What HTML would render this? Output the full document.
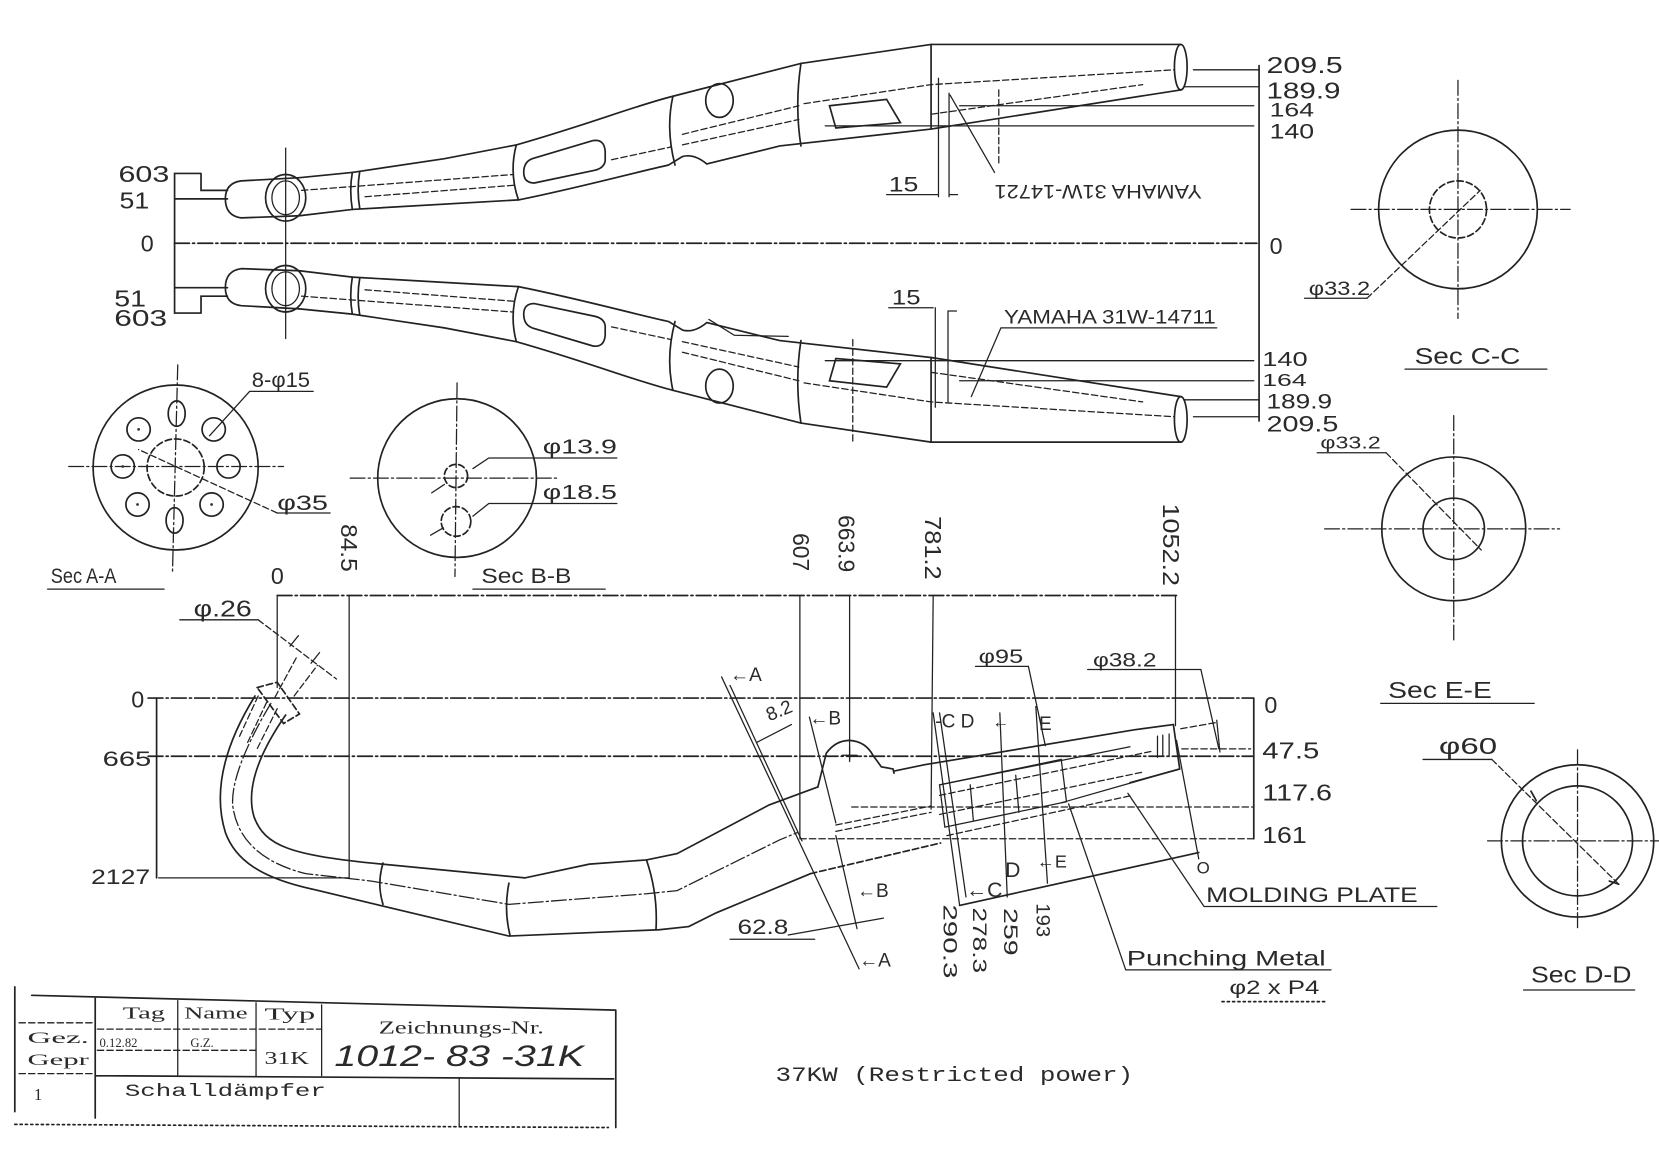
<!DOCTYPE html>
<html><head><meta charset="utf-8"><style>
html,body{margin:0;padding:0;background:#fff}
svg{display:block}
.l{stroke:#222;stroke-width:1.6;fill:none;stroke-linecap:round}
.t{stroke-width:1.2}
.d{stroke-dasharray:14 3 2 3}
.h{stroke-dasharray:6 3}
.o{stroke-dasharray:2 3}
text{font-family:"Liberation Sans",sans-serif;fill:#2a2a2a}
.s{font-family:"Liberation Serif",serif}
.m{font-family:"Liberation Mono",monospace}
</style></head><body>
<svg width="1659" height="1173" viewBox="0 0 1568 1109" preserveAspectRatio="none" xmlns="http://www.w3.org/2000/svg">
<rect x="0" y="0" width="1568" height="1109" fill="#fff"/>
<defs>
<g id="pipe">
<path class="l" d="M190,164 L165,164 L165,230 M190,164 L190,180 L215,180 M165,188 L215,188"/>
<path class="l" d="M283,168 L228,171 Q213,173 213,188 Q213,204 228,206 L283,204"/>
<path class="l" d="M283,168 L333,163 L420,150 L488,137 C555,118 600,100 636,91 L757,60 L880,42 L1116,42"/>
<path class="l" d="M283,204 L333,198 L490,189 C545,178 600,163 632,156 L645,148 Q656,145 668,155 L737,138 L880,122 L1116,85"/>
<ellipse class="l" cx="1116" cy="63.5" rx="6" ry="21.5"/>
<ellipse class="l" cx="270" cy="187" rx="19" ry="22"/>
<ellipse class="l t" cx="270" cy="187" rx="13" ry="16"/>
<path class="l" d="M333,163 Q330,180 333,198 M340,162 Q337,180 340,197 M488,137 Q481,163 490,189 M636,91 Q629,122 638,156 M757,60 Q751,100 757,138 M880,42 L880,122"/>
<path class="l h t" d="M285,180 L485,165 M345,186 L488,175 M578,151 L634,139 M645,127 L755,100 M645,137 L755,113 M760,98 L880,80 L1110,66 M880,108 L1080,80"/>
<path class="l" d="M503,150 L560,133 Q571,131 572,143 L572,152 Q571,159 562,161 L505,173 Q495,173 495,163 Q495,153 503,150 Z"/>
<ellipse class="l" cx="680" cy="95" rx="13" ry="16"/>
<path class="l" d="M784,100 L838,94 L851,116 L790,121 Z"/>
<path class="l t" d="M1128,66 L1190,66 M1120,82 L1190,82 M907,100 L1185,100 M780,119 L1185,119"/>
</g>
</defs>

<!-- TOP PLAN VIEW -->
<use href="#pipe"/>
<use href="#pipe" transform="matrix(1 0 0 -1 0 460)"/>
<path class="l t" d="M670,302 L694,317 L745,318"/>
<path class="l h t" d="M806,321 L806,418"/>
<path class="l d" d="M165,230 L1188,230"/>
<path class="l t" d="M270,140 L270,320"/>
<path class="l" d="M1190,62 L1190,398"/>
<text x="112" y="172" font-size="22" textLength="48" lengthAdjust="spacingAndGlyphs">603</text>
<text x="113" y="197" font-size="22" textLength="28" lengthAdjust="spacingAndGlyphs">51</text>
<text x="133" y="238" font-size="22">0</text>
<text x="108" y="290" font-size="22" textLength="30" lengthAdjust="spacingAndGlyphs">51</text>
<text x="108" y="308" font-size="22" textLength="50" lengthAdjust="spacingAndGlyphs">603</text>
<text x="1197" y="69" font-size="22" textLength="72" lengthAdjust="spacingAndGlyphs">209.5</text>
<text x="1197" y="93" font-size="22" textLength="70" lengthAdjust="spacingAndGlyphs">189.9</text>
<text x="1200" y="110" font-size="18" textLength="42" lengthAdjust="spacingAndGlyphs">164</text>
<text x="1200" y="131" font-size="20" textLength="42" lengthAdjust="spacingAndGlyphs">140</text>
<text x="1200" y="240" font-size="22">0</text>
<text x="1193" y="346" font-size="19" textLength="43" lengthAdjust="spacingAndGlyphs">140</text>
<text x="1193" y="365" font-size="17" textLength="42" lengthAdjust="spacingAndGlyphs">164</text>
<text x="1197" y="386" font-size="20" textLength="62" lengthAdjust="spacingAndGlyphs">189.9</text>
<text x="1197" y="408" font-size="21" textLength="68" lengthAdjust="spacingAndGlyphs">209.5</text>
<!-- 15 dims and YAMAHA labels -->
<text x="840" y="181" font-size="20" textLength="28" lengthAdjust="spacingAndGlyphs">15</text>
<path class="l t" d="M838,184 L886,184 M887,74 L887,186 M897,88 L897,186 M897,184 L905,184 M898,90 L940,163"/>
<path class="l h t" d="M944,85 L944,154"/>
<text transform="translate(1038,175) rotate(180)" text-anchor="middle" font-size="18" textLength="196" lengthAdjust="spacingAndGlyphs">YAMAHA 31W-14721</text>
<text x="843" y="288" font-size="20" textLength="27" lengthAdjust="spacingAndGlyphs">15</text>
<path class="l t" d="M840,291 L882,291 M884,291 L884,385 M896,294 L896,380 M896,294 L904,294 M946,310 L1150,310 M946,310 L918,375"/>
<text x="949" y="306" font-size="18" textLength="200" lengthAdjust="spacingAndGlyphs">YAMAHA 31W-14711</text>

<!-- SEC C-C -->
<circle class="l" cx="1378" cy="198" r="75"/>
<circle class="l h" cx="1378" cy="198" r="27"/>
<path class="l d t" d="M1277,198 L1484,198 M1378,76 L1378,301"/>
<path class="l t" d="M1233,282 L1292,282"/>
<path class="l h t" d="M1292,282 L1399,180"/>
<text x="1237" y="279" font-size="18" textLength="58" lengthAdjust="spacingAndGlyphs">φ33.2</text>
<text x="1337" y="344" font-size="22" textLength="100" lengthAdjust="spacingAndGlyphs">Sec  C-C</text>
<path class="l t" d="M1328,349 L1462,349"/>

<!-- SEC A-A -->
<circle class="l" cx="166" cy="442" r="78"/>
<circle class="l h" cx="166" cy="442" r="27"/>
<path class="l d t" d="M65,441 L268,441 M168,345 L163,542"/>
<ellipse class="l" cx="167" cy="391" rx="8" ry="12"/>
<ellipse class="l" cx="165" cy="492" rx="8" ry="12"/>
<circle class="l" cx="116" cy="441" r="11"/>
<circle class="l" cx="216" cy="441" r="11"/>
<circle class="l" cx="131" cy="406" r="11"/>
<circle class="l" cx="202" cy="406" r="11"/>
<circle class="l" cx="130" cy="477" r="11"/>
<circle class="l" cx="200" cy="477" r="11"/>
<g fill="#333"><circle cx="131" cy="406" r="1.3"/><circle cx="130" cy="477" r="1.3"/><circle cx="200" cy="477" r="1.3"/><circle cx="116" cy="441" r="1.3"/></g>
<path class="l t" d="M236,370 L296,370 M236,370 L198,412 M262,485 L312,485"/>
<path class="l h t" d="M262,485 L131,425"/>
<text x="238" y="366" font-size="20" textLength="55" lengthAdjust="spacingAndGlyphs">8-φ15</text>
<text x="262" y="482" font-size="20" textLength="48" lengthAdjust="spacingAndGlyphs">φ35</text>
<text x="48" y="551" font-size="20" textLength="62" lengthAdjust="spacingAndGlyphs">Sec A-A</text>
<path class="l t" d="M45,557 L155,557"/>

<!-- SEC B-B -->
<circle class="l" cx="432" cy="452" r="75"/>
<path class="l d t" d="M331,452 L527,452 M432,362 L430,545"/>
<circle class="l h" cx="431" cy="450" r="11"/>
<circle class="l h" cx="431" cy="493" r="14"/>
<path class="l t" d="M583,433 L462,433 L447,443 M408,466 L420,458 M583,476 L462,476 L447,488 M407,506 L419,499"/>
<text x="513" y="429" font-size="19" textLength="70" lengthAdjust="spacingAndGlyphs">φ13.9</text>
<text x="513" y="472" font-size="19" textLength="70" lengthAdjust="spacingAndGlyphs">φ18.5</text>
<text x="455" y="551" font-size="20" textLength="85" lengthAdjust="spacingAndGlyphs">Sec B-B</text>
<path class="l t" d="M447,557 L572,557"/>

<!-- SEC E-E -->
<circle class="l" cx="1374" cy="500" r="68"/>
<circle class="l" cx="1374" cy="500" r="29"/>
<path class="l d t" d="M1252,500 L1474,500 M1374,393 L1374,605"/>
<path class="l t" d="M1245,428 L1310,428"/>
<path class="l h t" d="M1310,428 L1400,520"/>
<text x="1248" y="424" font-size="17" textLength="57" lengthAdjust="spacingAndGlyphs">φ33.2</text>
<text x="1312" y="660" font-size="22" textLength="98" lengthAdjust="spacingAndGlyphs">Sec  E-E</text>
<path class="l t" d="M1305,665 L1450,665"/>

<!-- SEC D-D -->
<circle class="l" cx="1491" cy="795" r="72"/>
<circle class="l" cx="1491" cy="795" r="52"/>
<path class="l d t" d="M1406,795 L1568,795 M1491,709 L1491,880"/>
<path class="l t" d="M1345,718 L1410,718"/>
<path class="l h t" d="M1410,718 L1530,836"/>
<path class="l" d="M1452,757 L1447,748 M1530,836 L1521,833"/>
<text x="1360" y="713" font-size="22" textLength="55" lengthAdjust="spacingAndGlyphs">φ60</text>
<text x="1447" y="929" font-size="22" textLength="95" lengthAdjust="spacingAndGlyphs">Sec  D-D</text>
<path class="l t" d="M1440,936 L1545,936"/>

<!-- SIDE VIEW: dims -->
<path class="l d" d="M262,563 L1112,563"/>
<path class="l t" d="M262,563 L262,650 M330,563 L330,830 M756,563 L756,792 M803,563 L803,718 M882,563 L880,765 M1111,563 L1111,686 M1112,700 L1133,812"/>
<text x="256" y="552" font-size="22">0</text>
<text transform="translate(330,518) rotate(90)" text-anchor="middle" dy="0.35em" font-size="22" textLength="45" lengthAdjust="spacingAndGlyphs">84.5</text>
<text transform="translate(757,522) rotate(90)" text-anchor="middle" dy="0.35em" font-size="22" textLength="36" lengthAdjust="spacingAndGlyphs">607</text>
<text transform="translate(800,514) rotate(90)" text-anchor="middle" dy="0.35em" font-size="22" textLength="54" lengthAdjust="spacingAndGlyphs">663.9</text>
<text transform="translate(882,518) rotate(90)" text-anchor="middle" dy="0.35em" font-size="22" textLength="60" lengthAdjust="spacingAndGlyphs">781.2</text>
<text transform="translate(1107,515) rotate(90)" text-anchor="middle" dy="0.35em" font-size="22" textLength="78" lengthAdjust="spacingAndGlyphs">1052.2</text>
<path class="l d" d="M140,660 L1185,660 M140,715 L1185,715"/>
<path class="l" d="M148,660 L148,830 M1185,660 L1185,793"/>
<path class="l t" d="M150,830 L330,830"/>
<path class="l h t" d="M756,793 L1185,793 M805,763 L1185,763 M1117,708 L1182,708 M1116,689 L1150,683"/>
<path class="l t" d="M1150,681 L1153,711"/>
<text x="124" y="669" font-size="22">0</text>
<text x="97" y="724" font-size="20" textLength="46" lengthAdjust="spacingAndGlyphs">665</text>
<text x="86" y="836" font-size="20" textLength="56" lengthAdjust="spacingAndGlyphs">2127</text>
<text x="1195" y="674" font-size="22">0</text>
<text x="1193" y="717" font-size="22" textLength="54" lengthAdjust="spacingAndGlyphs">47.5</text>
<text x="1193" y="757" font-size="22" textLength="66" lengthAdjust="spacingAndGlyphs">117.6</text>
<text x="1193" y="797" font-size="22" textLength="42" lengthAdjust="spacingAndGlyphs">161</text>

<!-- head pipe -->
<path class="l h" d="M243,650 L262,645 L283,675 L268,684 Z"/>
<path class="l h t" d="M260,659 L280,622 M278,658 L300,629 M244,658 L226,697 M252,664 L234,702 M262,670 L243,708"/>
<path class="l t" d="M170,586 L244,586"/>
<path class="l h t" d="M244,586 L318,642"/>
<path class="l t" d="M274,611 L282,601 M294,627 L302,617"/>
<text x="183" y="583" font-size="22" textLength="55" lengthAdjust="spacingAndGlyphs">φ.26</text>
<path class="l" d="M241,658 C215,700 200,745 213,787 C222,812 245,830 297,841 L351,854 L481,885 L623,879 L651,876 L677,863 L766,826"/>
<path class="l h" d="M766,826 L889,797"/>
<path class="l d t" d="M256,665 C232,705 218,740 220,762 C224,792 245,815 289,826 L351,833 L481,855 L611,845 L640,842 L737,794 L754,787"/>
<path class="l" d="M270,676 C245,712 232,745 240,772 C250,800 275,808 351,816 L496,830 L557,817 L611,813 L640,807 L727,761 L773,744"/>
<path class="l" d="M362,816 Q356,836 362,855 M481,835 Q476,860 482,884 M611,813 Q622,845 620,879"/>

<!-- muffler -->
<path class="l" d="M773,744 L781,712 Q790,700 803,700 Q818,701 825,714 L833,725 L844,727 L845,731"/>
<path class="l d t" d="M803,706 L803,722 M796,714 L810,714"/>
<path class="l" d="M845,729 L874,723 L1072,690 L1109,685 L1115,727 L1068,740"/>
<path class="l t" d="M1094,696 L1094,716 M1099,695 L1099,715 M1105,694 L1105,714 M1115,727 L1003,759"/>
<path class="l" d="M907,856 L1133,806"/>
<path class="l t" d="M888,742 L1068,706"/>
<path class="l h t" d="M888,752 L1090,710 M888,770 L1080,730 M790,780 L880,762 M790,786 L880,768 M895,790 L1070,752"/>
<path class="l t" d="M888,742 L1003,718 L1008,758 L893,782 Z M917,742 L920,776 M960,733 L963,768"/>
<!-- cut lines -->
<path class="l t" d="M682,640 L812,916 M690,648 L758,795 M765,678 L790,778 M790,790 L810,878 M882,674 L907,856 M888,674 L913,848 M945,674 L952,848 M979,668 L990,835"/>
<path class="l t" d="M715,702 L748,685"/>
<text x="690" y="644" font-size="18">←A</text>
<text transform="translate(727,682) rotate(-22)" font-size="18">8.2</text>
<text x="765" y="685" font-size="18">←B</text>
<text x="810" y="848" font-size="18">←B</text>
<text x="812" y="914" font-size="18">←A</text>
<text x="697" y="883" font-size="20" textLength="48" lengthAdjust="spacingAndGlyphs">62.8</text>
<path class="l t" d="M690,888 L770,888 M745,884 L835,868"/>
<text x="884" y="688" font-size="18">-C D</text>
<text x="938" y="688" font-size="16">←</text>
<text x="982" y="690" font-size="18">E</text>
<text x="913" y="848" font-size="20">←C</text>
<text x="950" y="829" font-size="20">D</text>
<text x="980" y="820" font-size="17">←E</text>
<text transform="translate(898,890) rotate(90)" text-anchor="middle" dy="0.35em" font-size="18" textLength="70" lengthAdjust="spacingAndGlyphs">290.3</text>
<text transform="translate(926,889) rotate(90)" text-anchor="middle" dy="0.35em" font-size="18" textLength="62" lengthAdjust="spacingAndGlyphs">278.3</text>
<text transform="translate(955,881) rotate(90)" text-anchor="middle" dy="0.35em" font-size="18" textLength="45" lengthAdjust="spacingAndGlyphs">259</text>
<text transform="translate(986,870) rotate(90)" text-anchor="middle" dy="0.35em" font-size="18" textLength="32" lengthAdjust="spacingAndGlyphs">193</text>
<!-- leaders -->
<path class="l t" d="M922,630 L972,630 L988,705 M1028,633 L1135,633 L1152,708 M1066,750 L1138,857 L1358,857 M1010,760 L1064,917 L1258,917"/>
<path class="l o" d="M1155,947 L1252,947"/>
<text x="925" y="627" font-size="18" textLength="42" lengthAdjust="spacingAndGlyphs">φ95</text>
<text x="1033" y="630" font-size="18" textLength="60" lengthAdjust="spacingAndGlyphs">φ38.2</text>
<text x="1131" y="826" font-size="16">O</text>
<text x="1140" y="853" font-size="20" textLength="200" lengthAdjust="spacingAndGlyphs">MOLDING  PLATE</text>
<text x="1065" y="913" font-size="20" textLength="188" lengthAdjust="spacingAndGlyphs">Punching  Metal</text>
<text x="1162" y="940" font-size="18" textLength="85" lengthAdjust="spacingAndGlyphs">φ2 x P4</text>

<!-- TITLE BLOCK -->
<path class="l" d="M14,933 L14,1051 M30,941 L582,955 M582,955 L582,1066 M90,943 L90,1057 M90,1017 L580,1020"/>
<path class="l t" d="M168,946 L168,1017 M242,948 L242,1017 M304,950 L304,1017 M434,1019 L434,1065"/>
<path class="l h t" d="M18,967 L88,967 M18,1015 L88,1015 M92,973 L304,973 M92,993 L242,993"/>
<path class="l o" d="M14,1063 L575,1066"/>
<text class="s" x="116" y="963" font-size="16" textLength="40" lengthAdjust="spacingAndGlyphs">Tag</text>
<text class="s" x="174" y="963" font-size="16" textLength="60" lengthAdjust="spacingAndGlyphs">Name</text>
<text class="s" x="250" y="964" font-size="16" textLength="48" lengthAdjust="spacingAndGlyphs">Typ</text>
<text class="s" x="358" y="977" font-size="17" textLength="156" lengthAdjust="spacingAndGlyphs">Zeichnungs-Nr.</text>
<text class="s" x="26" y="986" font-size="15" textLength="58" lengthAdjust="spacingAndGlyphs">Gez.</text>
<text class="s" x="26" y="1007" font-size="15" textLength="58" lengthAdjust="spacingAndGlyphs">Gepr</text>
<text class="s" x="94" y="990" font-size="12" fill="#666">0.12.82</text>
<text class="s" x="180" y="990" font-size="12" fill="#666">G.Z.</text>
<text class="s" x="250" y="1006" font-size="17" textLength="42" lengthAdjust="spacingAndGlyphs">31K</text>
<text x="316" y="1008" font-size="28" font-style="italic" textLength="236" lengthAdjust="spacingAndGlyphs">1012- 83 -31K</text>
<text class="m" x="118" y="1036" font-size="17" textLength="190" lengthAdjust="spacingAndGlyphs">Schalldämpfer</text>
<text class="s" x="32" y="1040" font-size="16">1</text>
<text class="m" x="733" y="1022" font-size="19" textLength="338" lengthAdjust="spacingAndGlyphs">37KW (Restricted power)</text>
</svg>
</body></html>
